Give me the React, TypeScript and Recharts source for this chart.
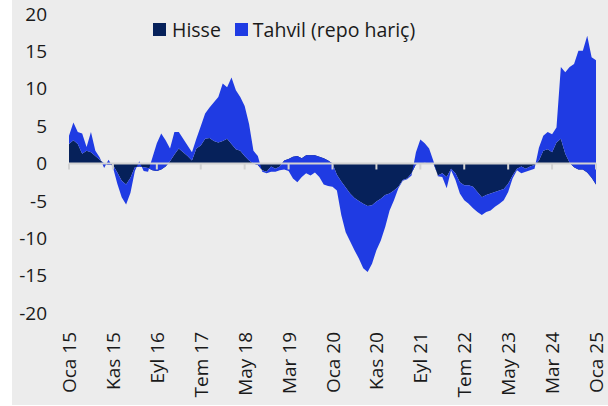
import React from "react";
import { AreaChart, Area, XAxis, YAxis, ReferenceLine, Legend } from "recharts";

// Aylık seriler, Oca 15 - Oca 25 (yüzde puan)
const hisse = [
  2.6, 3.1, 2.6, 1.3, 1.7, 1.5, 1.0, 0.5, 0.0, -0.2, -0.2, -1.2,
  -2.3, -2.8, -1.9, -0.5, -0.4, -0.5, -0.6, -0.9, -1.0, -0.8, -0.4, 0.3,
  1.2, 2.0, 1.5, 1.0, 0.4, 2.0, 2.4, 3.3, 3.4, 3.0, 2.8, 3.0,
  3.3, 2.6, 1.9, 1.7, 1.0, 0.4, 0.0, -0.2, -0.9, -1.1, -0.4, -0.7,
  -0.4, 0.4, 0.6, 0.9, 1.0, 0.7, 1.1, 1.1, 1.1, 0.9, 0.7, 0.4,
  0.0, -1.5, -2.4, -3.2, -4.0, -4.6, -5.0, -5.4, -5.7, -5.6, -5.1, -4.7,
  -4.2, -4.0, -3.6, -3.1, -2.2, -2.0, -1.3, -0.1, 0.0, 0.1, 0.0, 0.0,
  -1.6, -1.3, -1.8, -0.7, -1.3, -2.5, -2.9, -2.9, -3.1, -3.8, -4.5, -4.2,
  -4.0, -3.8, -3.6, -3.4, -2.7, -1.6, -0.7, -0.4, -0.7, -0.4, -0.2, 0.4,
  1.7, 1.9, 1.5, 2.8, 3.3, 1.3, 0.1, -0.5, -0.8, -0.8, -1.2, -1.9,
  -2.8,
];

const tahvil = [
  1.1, 2.4, 1.6, 2.7, 0.5, 2.7, 0.7, 0.3, -0.6, 0.7, -0.3, -1.5,
  -2.2, -2.7, -2.0, -0.5, 0.7, -0.5, -0.5, 1.7, 3.7, 4.8, 3.5, 1.7,
  3.0, 2.2, 1.8, 1.4, 1.1, 1.3, 2.6, 3.4, 4.1, 5.2, 6.1, 7.7,
  6.9, 8.9, 7.9, 7.2, 6.7, 4.9, 1.7, 1.2, -0.2, -0.2, -0.7, -0.4,
  -0.5, -1.2, -1.6, -2.9, -3.5, -2.5, -2.4, -2.7, -2.3, -2.7, -3.5, -3.4,
  -3.1, -2.1, -4.5, -6.0, -6.4, -7.0, -7.7, -8.6, -8.8, -7.8, -6.5, -5.6,
  -4.3, -2.3, -1.3, -0.2, -0.1, -0.1, -0.3, 1.6, 3.2, 2.6, 2.0, 0.3,
  -0.1, -0.5, -1.5, -0.2, -0.9, -1.5, -2.0, -2.5, -2.9, -2.7, -2.4, -2.3,
  -2.3, -2.0, -1.8, -1.5, -1.1, -0.4, -0.2, -0.9, -0.4, -0.5, -0.5, 1.7,
  2.0, 2.3, 2.4, 2.0, 9.6, 10.9, 12.8, 13.8, 15.9, 15.9, 18.3, 16.1,
  16.6,
];

const monthNames = ["Oca", "Şub", "Mar", "Nis", "May", "Haz", "Tem", "Ağu", "Eyl", "Eki", "Kas", "Ara"];
const yTicks = [-20, -15, -10, -5, 0, 5, 10, 15, 20];

const rows = hisse.map((h, i) => ({
  month: `${monthNames[i % 12]} ${15 + Math.floor(i / 12)}`,
  hisse: h,
  tahvil: tahvil[i],
}));

const labelled = rows.filter((_, i) => i % 10 === 0).map((r) => r.month);

const FONT = '"Open Sans", sans-serif';
const TEXT = "#1a1a1a";

const MonthTick = (props: any) => {
  const { x, y, payload } = props;
  return (
    <text
      x={x}
      y={y}
      transform={`rotate(-90 ${x} ${y})`}
      textAnchor="end"
      dominantBaseline="central"
      fontSize={19}
      fill={TEXT}
      fontFamily={FONT}
    >
      {payload.value}
    </text>
  );
};

const LegendBox = () => (
  <div style={{ display: "flex", alignItems: "center", fontFamily: FONT, fontSize: 19.5, color: TEXT, whiteSpace: "nowrap" }}>
    <span style={{ width: 13, height: 13, background: "#06215a", display: "inline-block", marginRight: 6 }} />
    <span style={{ marginRight: 14 }}>Hisse</span>
    <span style={{ width: 13, height: 13, background: "#1f3be3", display: "inline-block", marginRight: 5 }} />
    <span>Tahvil (repo hariç)</span>
  </div>
);

export default function App() {
  return (
    <div style={{ position: "absolute", left: 0, top: 0, width: 608, height: 406, background: "#fff" }}>
      <div style={{ position: "absolute", left: 12, top: 0, width: 596, height: 405, background: "#ececec" }}>
        <AreaChart
          width={596}
          height={405}
          data={rows}
          margin={{ top: 14, right: 12, bottom: 0, left: 0 }}
        >
          <XAxis
            dataKey="month"
            interval={9}
            axisLine={false}
            tickLine={false}
            tickSize={0}
            tickMargin={19}
            height={92}
            tick={<MonthTick />}
          />
          <YAxis
            domain={[-20, 20]}
            ticks={yTicks}
            axisLine={false}
            tickLine={false}
            tickSize={0}
            tickMargin={22}
            width={57}
            tick={{ fontSize: 19, fill: TEXT, fontFamily: FONT }}
          />
          <Legend
            verticalAlign="middle"
            content={() => <LegendBox />}
            wrapperStyle={{ top: 16, left: 141, width: 320 }}
          />
          <Area
            type="linear"
            dataKey="hisse"
            name="Hisse"
            stackId="a"
            stroke="none"
            fill="#06215a"
            fillOpacity={1}
            isAnimationActive={false}
          />
          <Area
            type="linear"
            dataKey="tahvil"
            name="Tahvil (repo hariç)"
            stackId="a"
            stroke="none"
            fill="#1f3be3"
            fillOpacity={1}
            isAnimationActive={false}
          />
          <ReferenceLine y={0} stroke="#d2d2d2" strokeWidth={2} />
          {labelled.map((m) => (
            <ReferenceLine
              key={m}
              segment={[{ x: m, y: 0 }, { x: m, y: -0.8 }]}
              stroke="#d2d2d2"
              strokeWidth={2}
            />
          ))}
        </AreaChart>
      </div>
    </div>
  );
}
